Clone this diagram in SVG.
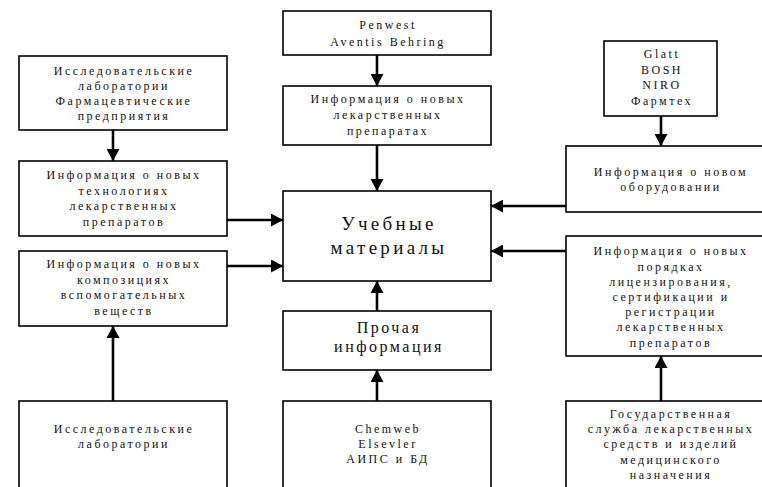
<svg xmlns="http://www.w3.org/2000/svg" width="762" height="487" viewBox="0 0 762 487">
<style>
.box{fill:#fff;stroke:#000;stroke-width:1.6}
.t{font-family:"Liberation Serif","Times New Roman",serif;font-size:12px;letter-spacing:2.5px;fill:#111;text-anchor:middle}
.tb{font-family:"Liberation Serif","Times New Roman",serif;font-size:19px;letter-spacing:3.3px;fill:#111;text-anchor:middle}
.tm{font-family:"Liberation Serif","Times New Roman",serif;font-size:16px;letter-spacing:2.5px;fill:#111;text-anchor:middle}
.ln{stroke:#000;stroke-width:2.6;fill:none}
</style>
<defs>
<marker id="ah" viewBox="0 0 12 13" refX="12" refY="6.5" markerWidth="12" markerHeight="13" markerUnits="userSpaceOnUse" orient="auto">
<path d="M0,0 L12,6.5 L0,13 Z" fill="#000"/>
</marker>
</defs>
<rect width="762" height="487" fill="#fff"/>

<g id="labs-pharma">
<rect class="box" x="19" y="56" width="208" height="74"/>
<text class="t" x="124" y="75">Исследовательские</text>
<text class="t" x="124" y="90">лаборатории</text>
<text class="t" x="124" y="105">Фармацевтические</text>
<text class="t" x="124" y="120">предприятия</text>
</g>
<g id="info-tech">
<rect class="box" x="19" y="161" width="208" height="75"/>
<text class="t" x="124" y="179">Информация о новых</text>
<text class="t" x="124" y="195">технологиях</text>
<text class="t" x="124" y="210">лекарственных</text>
<text class="t" x="124" y="226">препаратов</text>
</g>
<g id="info-excip">
<rect class="box" x="19" y="251" width="208" height="75"/>
<text class="t" x="124" y="268">Информация о новых</text>
<text class="t" x="124" y="284">композициях</text>
<text class="t" x="124" y="299">вспомогательных</text>
<text class="t" x="124" y="315">веществ</text>
</g>
<g id="labs">
<rect class="box" x="19" y="401" width="208" height="100"/>
<text class="t" x="124" y="433">Исследовательские</text>
<text class="t" x="124" y="448">лаборатории</text>
</g>

<g id="penwest">
<rect class="box" x="283" y="11" width="208" height="44"/>
<text class="t" x="388" y="29">Penwest</text>
<text class="t" x="388" y="46">Aventis Behring</text>
</g>
<g id="info-drugs">
<rect class="box" x="283" y="86" width="208" height="59"/>
<text class="t" x="388" y="103">Информация о новых</text>
<text class="t" x="388" y="119">лекарственных</text>
<text class="t" x="388" y="135">препаратах</text>
</g>
<g id="main">
<rect class="box" x="283" y="191" width="208" height="90"/>
<text class="tb" x="389" y="230">Учебные</text>
<text class="tb" x="389" y="254">материалы</text>
</g>
<g id="other">
<rect class="box" x="283" y="311" width="208" height="59"/>
<text class="tm" x="389" y="333">Прочая</text>
<text class="tm" x="389" y="352">информация</text>
</g>
<g id="chemweb">
<rect class="box" x="283" y="401" width="208" height="100"/>
<text class="t" x="388" y="433">Chemweb</text>
<text class="t" x="388" y="448">Elsevler</text>
<text class="t" x="388" y="463">АИПС и БД</text>
</g>

<g id="glatt">
<rect class="box" x="604" y="41" width="113" height="75"/>
<text class="t" x="662" y="58">Glatt</text>
<text class="t" x="662" y="74">BOSH</text>
<text class="t" x="662" y="89">NIRO</text>
<text class="t" x="662" y="105">Фармтех</text>
</g>
<g id="info-equip">
<rect class="box" x="566" y="146" width="210" height="66"/>
<text class="t" x="671" y="176">Информация о новом</text>
<text class="t" x="671" y="191">оборудовании</text>
</g>
<g id="info-licensing">
<rect class="box" x="566" y="236" width="210" height="120"/>
<text class="t" x="671" y="255">Информация о новых</text>
<text class="t" x="671" y="271">порядках</text>
<text class="t" x="671" y="286">лицензирования,</text>
<text class="t" x="671" y="301">сертификации и</text>
<text class="t" x="671" y="316">регистрации</text>
<text class="t" x="671" y="331">лекарственных</text>
<text class="t" x="671" y="347">препаратов</text>
</g>
<g id="state-service">
<rect class="box" x="566" y="401" width="210" height="100"/>
<text class="t" x="671" y="418">Государственная</text>
<text class="t" x="671" y="433">служба лекарственных</text>
<text class="t" x="671" y="448">средств и изделий</text>
<text class="t" x="671" y="464">медицинского</text>
<text class="t" x="671" y="479">назначения</text>
</g>

<g id="connectors">
<line class="ln" x1="113" y1="130" x2="113" y2="161" marker-end="url(#ah)"/>
<line class="ln" x1="113" y1="401" x2="113" y2="326" marker-end="url(#ah)"/>
<line class="ln" x1="227" y1="220" x2="283" y2="220" marker-end="url(#ah)"/>
<line class="ln" x1="227" y1="266" x2="283" y2="266" marker-end="url(#ah)"/>
<line class="ln" x1="377" y1="55" x2="377" y2="86" marker-end="url(#ah)"/>
<line class="ln" x1="377" y1="145" x2="377" y2="191" marker-end="url(#ah)"/>
<line class="ln" x1="377" y1="311" x2="377" y2="281" marker-end="url(#ah)"/>
<line class="ln" x1="377" y1="401" x2="377" y2="370" marker-end="url(#ah)"/>
<line class="ln" x1="661" y1="116" x2="661" y2="146" marker-end="url(#ah)"/>
<line class="ln" x1="661" y1="401" x2="661" y2="356" marker-end="url(#ah)"/>
<line class="ln" x1="566" y1="206" x2="491" y2="206" marker-end="url(#ah)"/>
<line class="ln" x1="566" y1="251" x2="491" y2="251" marker-end="url(#ah)"/>
</g>
</svg>
